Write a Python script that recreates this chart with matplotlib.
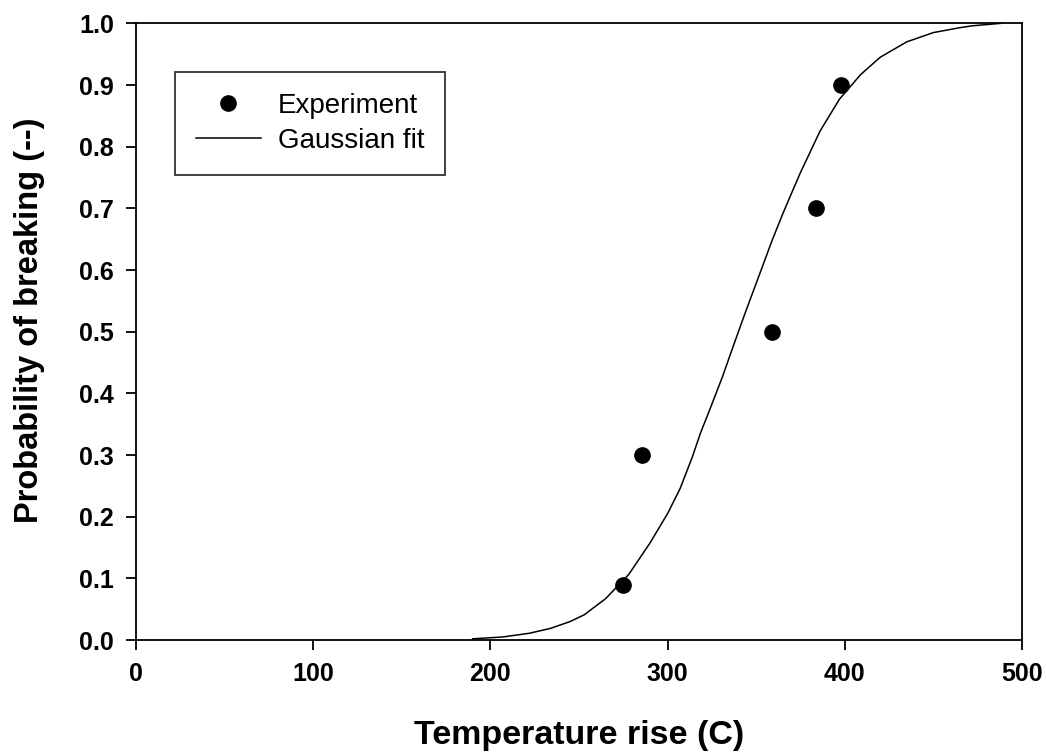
import numpy as np
import matplotlib.pyplot as plt

plt.rcParams['font.family'] = ['Liberation Sans', 'DejaVu Sans']

# experimental points
exp_temp = [275, 285.5, 359, 384, 398]
exp_prob = [0.09, 0.30, 0.50, 0.70, 0.90]

# gaussian fit curve
fit_temp = [190, 207, 222, 234, 245, 253, 265, 278, 290, 300, 307, 314, 318.5, 324,
            331, 337, 344, 351, 359, 365, 369, 375, 386, 397, 409, 420, 435, 450,
            465, 472, 488]
fit_prob = [0.002, 0.005, 0.011, 0.019, 0.030, 0.041, 0.067, 0.106, 0.157, 0.205,
            0.245, 0.297, 0.335, 0.375, 0.427, 0.476, 0.532, 0.586, 0.648, 0.691,
            0.718, 0.758, 0.825, 0.877, 0.917, 0.945, 0.970, 0.985, 0.993, 0.996, 1.0]

xticks = [0, 100, 200, 300, 400, 500]
yticks = np.round(np.arange(0, 1.01, 0.1), 1)

fig = plt.figure(figsize=(10.46, 7.53), dpi=100)
ax = fig.add_axes([0.130, 0.150, 0.847, 0.819])

ax.plot(exp_temp, exp_prob, 'o', color='black', markersize=11, label='Experiment', zorder=3)
ax.plot(fit_temp, fit_prob, '-', color='black', linewidth=1.1, label='Gaussian fit')

ax.set_xlim(0, 500)
ax.set_ylim(0, 1.0)
ax.set_xticks(xticks)
ax.set_yticks(yticks)
ax.set_yticklabels(['%.1f' % v for v in yticks])

for s in ax.spines.values():
    s.set_linewidth(1.3)
ax.tick_params(direction='out', length=7, width=1.3, labelsize=18, pad=9)
for lab in ax.get_xticklabels() + ax.get_yticklabels():
    lab.set_fontweight('bold')

ax.set_xlabel('Temperature rise (C)', fontsize=24.5, fontweight='bold', labelpad=24)
ax.set_ylabel('Probability of breaking (--)', fontsize=23.5, fontweight='bold')
ax.yaxis.set_label_coords(-0.103, 0.519)

leg = ax.legend(loc='upper left', bbox_to_anchor=(0.044, 0.9206), borderaxespad=0,
                fontsize=20, frameon=True, fancybox=False, edgecolor='black',
                borderpad=0.74, handlelength=2.37, handletextpad=0.6,
                labelspacing=0.33)
leg.get_frame().set_linewidth(1.3)

fig.savefig('out.png', dpi=100)
